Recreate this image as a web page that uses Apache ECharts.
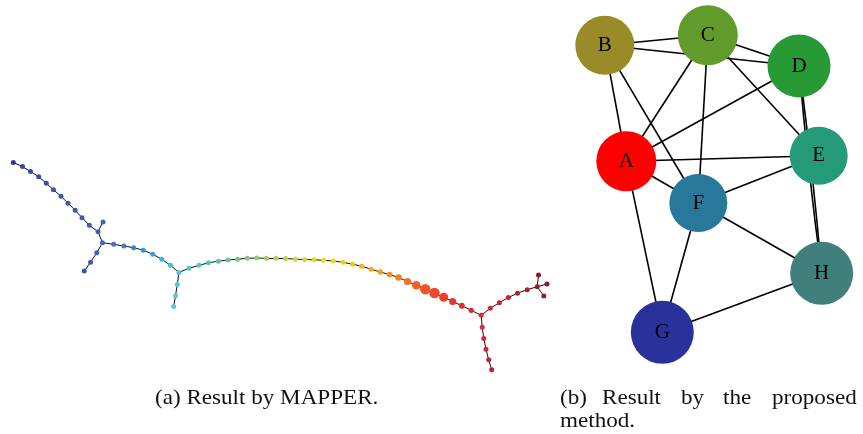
<!DOCTYPE html>
<html>
<head>
<meta charset="utf-8">
<script src="https://cdn.jsdelivr.net/npm/echarts@6/dist/echarts.min.js"></script>
<style>
  html, body { margin: 0; padding: 0; background: #fff; }
  #main { width: 863px; height: 434px; }
</style>
</head>
<body>
<div id="main"></div>
<script>
// ---- (a) MAPPER graph: node layout, sizes, colours, and paths ----
const mapperX = [
  13.3, 22.5, 30.5, 38.7, 46.3, 53.5, 61.0, 68.0, 75.2, 82.0, 89.3, 98.0, 103.0, 102.5,
  96.8, 90.6, 84.3,
  113.7, 123.8, 133.7, 143.3, 152.7, 161.7, 170.4, 178.9,
  177.3, 175.5, 173.7,
  189.0, 199.0, 208.5, 218.3, 228.0, 237.5, 247.3, 256.8, 266.3, 276.0, 285.7, 295.2,
  304.7, 314.2, 323.7, 333.3, 343.0, 352.5, 361.7, 371.0, 380.3, 389.5, 398.5, 407.5,
  416.3, 425.3, 434.5, 443.7, 452.7, 461.8, 471.2, 481.2,
  490.3, 499.3, 508.3, 517.5, 527.2, 537.2, 538.5, 547.0, 543.8,
  482.2, 483.8, 486.0, 488.7, 491.7
];
const mapperY = [
  162.5, 166.6, 171.5, 176.7, 183.2, 189.8, 196.3, 203.2, 210.3, 217.7, 225.3, 231.7, 222.0, 242.7,
  252.7, 262.2, 271.0,
  244.3, 246.0, 247.7, 250.2, 254.2, 259.2, 265.3, 272.4,
  284.4, 295.7, 306.4,
  268.3, 265.3, 262.8, 261.2, 260.0, 259.2, 258.3, 258.0, 258.3, 258.3, 258.4, 259.2,
  259.5, 259.8, 260.3, 261.0, 262.3, 264.2, 266.2, 269.2, 272.0, 274.5, 277.5, 281.5,
  285.3, 289.2, 293.0, 297.3, 301.5, 305.7, 310.3, 315.3,
  308.3, 302.7, 297.5, 293.2, 289.7, 286.7, 275.0, 284.0, 296.0,
  327.3, 338.5, 349.3, 359.8, 369.8
];
const mapperSize = [
  5, 5, 5, 5, 5, 5, 5, 5, 5, 5, 5, 5, 5, 5,
  5, 5, 5,
  5, 5, 5, 5, 5, 5, 5, 5,
  5, 5, 5,
  5, 5, 5, 5, 5, 5, 5, 5, 5, 5, 5, 5,
  5, 5, 5, 5, 5, 5, 5, 5, 5.3, 5.7, 6.5, 7.2,
  8.5, 10.5, 10.5, 9, 7.2, 6, 5.3, 5,
  5, 5, 5, 5, 5, 5, 5, 5, 5,
  5, 5, 5, 5, 5
];
const mapperColor = [
  '#2b3990', '#3146a2', '#334aa6', '#344ea9', '#3551ac', '#3654af', '#3757b1', '#3859b3', '#395bb5', '#3a5db7', '#3b5fb9', '#3c61bc', '#3e63c0', '#3e67c4',
  '#3c60bd', '#3a5bb8', '#3656b3',
  '#4070c8', '#4078cc', '#4081d1', '#3f8fd6', '#3da0dd', '#30b6ea', '#3fbfe4', '#4fc3e0',
  '#58c4dc', '#5cc4d8', '#60c4d4',
  '#57c3d5', '#5cc1cb', '#5fc0bf', '#66c0b0', '#6fc1a1', '#7cc392', '#8ac585', '#98c877', '#a5cb69', '#b1cf5c', '#c0d24f', '#cdd541',
  '#d9d833', '#e4da23', '#eedb14', '#f5d808', '#f8d000', '#f8c505', '#f8b710', '#f8a818', '#f89c1e', '#f78f22', '#f58025', '#f37028',
  '#f0612a', '#ef552b', '#ed4a2c', '#eb402d', '#e8352f', '#e62d31', '#e42833', '#df2434',
  '#d82432', '#d02230', '#c8202e', '#bf1e2c', '#b31c29', '#a01a24', '#8a1a20', '#901a22', '#981c25',
  '#de2636', '#d82434', '#d22232', '#c92030', '#c01e2d'
];
// Chains of node indices; consecutive entries are joined by an edge.
const mapperPaths = [
  [0, 1, 2, 3, 4, 5, 6, 7, 8, 9, 10, 11],
  [11, 12],
  [11, 13, 14, 15, 16],
  [13, 17, 18, 19, 20, 21, 22, 23, 24],
  [24, 25, 26, 27],
  [24, 28, 29, 30, 31, 32, 33, 34, 35, 36, 37, 38, 39, 40, 41, 42, 43, 44, 45, 46,
   47, 48, 49, 50, 51, 52, 53, 54, 55, 56, 57, 58, 59],
  [59, 60, 61, 62, 63, 64, 65],
  [65, 66], [65, 67], [65, 68],
  [59, 69, 70, 71, 72, 73]
];

// ---- (b) proposed method graph ----
const clusterNames = ['A', 'B', 'C', 'D', 'E', 'F', 'G', 'H'];
const clusterX = [626.3, 604.8, 707.8, 799.0, 818.7, 698.3, 662.3, 821.7];
const clusterY = [161.2, 45.3, 35.3, 66.0, 155.8, 203.0, 332.3, 273.3];
const clusterSize = [60, 59, 60, 63, 58, 58, 63, 63];
const clusterColor = ['#ff0000', '#998b27', '#609b2b', '#279a35', '#249a78', '#27789b', '#29329a', '#417f7d'];
const clusterEdges = [
  ['B', 'C'], ['B', 'D'], ['C', 'D'], ['B', 'A'], ['B', 'F'], ['C', 'A'], ['C', 'F'],
  ['C', 'E'], ['D', 'A'], ['A', 'E'], ['A', 'F'], ['E', 'F'], ['A', 'G'], ['F', 'G'],
  ['F', 'H'], ['G', 'H'], ['D', 'H'], ['H', 'D']
];

// ---- captions ----
const captionA = '(a) Result by MAPPER.';
const captionBWords = ['(b)', 'Result', 'by', 'the', 'proposed'];
const captionBWordX = [560, 602, 681, 723, 772];
const captionBLine2 = 'method.';

const serif = '"Liberation Serif", "DejaVu Serif", serif';
const captionFont = '21px ' + serif;
const captionStretch = 1.1; // widen the Times-like face toward a Computer Modern set width

const mapperNodes = mapperX.map((x, i) => ({
  value: [x, mapperY[i]],
  symbolSize: mapperSize[i],
  itemStyle: { color: mapperColor[i] }
}));
const mapperLinks = [];
mapperPaths.forEach(p => {
  for (let i = 0; i + 1 < p.length; i++) mapperLinks.push({ source: p[i], target: p[i + 1] });
});

const clusterNodes = clusterNames.map((n, i) => ({
  name: n,
  value: [clusterX[i], clusterY[i]],
  symbolSize: clusterSize[i],
  itemStyle: { color: clusterColor[i] }
}));
// D and H are joined twice; the two links bow slightly apart.
const clusterLinks = clusterEdges.map(([s, t]) => {
  const doubled = (s === 'D' && t === 'H') || (s === 'H' && t === 'D');
  return { source: s, target: t, lineStyle: { curveness: doubled ? 0.012 : 0 } };
});

function captionText(text, x, y) {
  return {
    type: 'text', x: x, y: y, scaleX: captionStretch, scaleY: 1,
    style: { text: text, x: 0, y: 0, font: captionFont, fill: '#111', align: 'left', verticalAlign: 'top' }
  };
}

const chart = echarts.init(document.getElementById('main'), null, { renderer: 'canvas' });
chart.setOption({
  animation: false,
  backgroundColor: '#ffffff',
  grid: { left: 0, top: 0, width: 863, height: 434 },
  xAxis: { type: 'value', min: 0, max: 863, show: false },
  yAxis: { type: 'value', min: 0, max: 434, inverse: true, show: false },
  series: [
    {
      type: 'graph',
      coordinateSystem: 'cartesian2d',
      symbol: 'circle',
      data: mapperNodes,
      links: mapperLinks,
      lineStyle: { color: '#111', width: 1, opacity: 1 },
      label: { show: false },
      emphasis: { disabled: true },
      silent: true
    },
    {
      type: 'graph',
      coordinateSystem: 'cartesian2d',
      symbol: 'circle',
      data: clusterNodes,
      links: clusterLinks,
      lineStyle: { color: '#000', width: 1.6, opacity: 1 },
      label: {
        show: true,
        position: 'inside',
        formatter: '{b}',
        color: '#000',
        fontFamily: serif,
        fontSize: 21
      },
      emphasis: { disabled: true },
      silent: true
    }
  ],
  graphic: [
    captionText(captionA, 155, 388),
    ...captionBWords.map((w, i) => captionText(w, captionBWordX[i], 388)),
    captionText(captionBLine2, 560, 411)
  ]
});
</script>
</body>
</html>
